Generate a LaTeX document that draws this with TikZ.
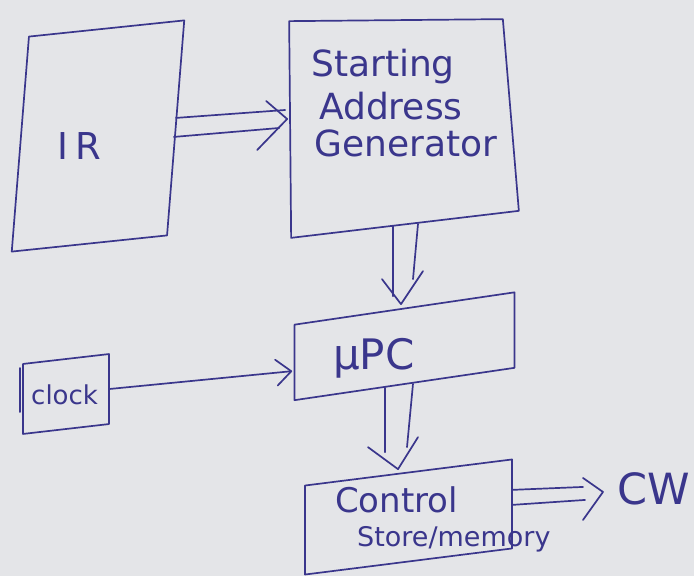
\documentclass[tikz,border=0pt]{standalone}
\usepackage{fontspec}
\setmainfont{DejaVu Sans}
\usetikzlibrary{calc,arrows.meta}
\definecolor{paper}{RGB}{228,229,232}
\definecolor{ink}{RGB}{58,54,140}
\tikzset{
  pen/.style={draw=ink, line width=1.7pt, line cap=round, line join=round},
  blockbox/.style={pen, rectangle, inner sep=0pt},
  handtext/.style={text=ink, inner sep=0pt, anchor=base west},
  barb/.style={-{Straight Barb[length=15pt,width=26pt,round]}},
}
\newcommand\fsz[1]{\fontsize{#1}{#1}\selectfont}

\begin{document}
\begin{tikzpicture}[x=1pt,y=1pt]
\fill[paper] (0,0) rectangle (694,576);
\useasboundingbox (0,0) rectangle (694,576);

% blocks (slanted as drawn by hand)
\node[blockbox, minimum width=154pt, minimum height=215pt, xslant=0.08, yslant=0.105] (ir) at (98,440) {};
\node[blockbox, draw=none, minimum width=220pt, minimum height=203pt] (sag) at (400.5,453.75) {};
\draw[pen] ($(sag.north west)+(-0.5,-1.25)$) -- ($(sag.north east)+(-8.5,0.75)$)
        -- ($(sag.south east)+(7.5,13.75)$) -- ($(sag.south west)+(1.5,-13.25)$) -- cycle;
\node[blockbox, minimum width=220pt, minimum height=75.5pt, yslant=0.147] (upc) at (404.5,229.75) {};
\node[blockbox, minimum width=86pt, minimum height=70pt, yslant=0.115] (clock) at (66,182) {};
\node[blockbox, minimum width=207pt, minimum height=89pt, yslant=0.126] (cs) at (408.5,59) {};
\node[handtext, font=\fsz{43}] (cw) at (617,71) {CW};

% extra stroke on the clock's left side
\draw[pen] ($(clock.west)+(-2.3,31)$) -- ($(clock.west)+(-2.3,-13)$);

% texts inside the blocks
\node[handtext, font=\fsz{37}] (irtext) at (57,416) {I\kern7ptR};
\node[handtext, font=\fsz{36}] (sag1) at (311,499) {Starting};
\node[handtext, font=\fsz{36}] (sag2) at (319,456) {Address};
\node[handtext, font=\fsz{36}] (sag3) at (314,419) {Generator};
\node[handtext, font=\fsz{42}] (upctext) at (333,206) {μPC};
\node[handtext, font=\fsz{26}] (clocktext) at (31,171) {clock};
\node[handtext, font=\fsz{34}] (cs1) at (335,63) {Control};
\node[handtext, font=\fsz{27}] (cs2) at (357,29) {Store/memory};

% IR => starting address generator
\draw[pen] ($(ir.east)+(-0.6,9.9)$) -- ($(sag.west)+(-4.5,12.25)$);
\draw[pen] ($(ir.east)+(-2.6,-9.1)$) -- ($(sag.west)+(-10.5,-5.75)$);
\draw[pen] ($(sag.west)+(-23.5,21.25)$) -- ($(sag.west)+(-2.5,3.25)$) -- ($(sag.west)+(-32.5,-27.75)$);

% starting address generator => uPC
\draw[pen] ($(sag.south)+(-7.5,-1.2)$) -- ($(upc.north)+(-11.5,11.5)$);
\draw[pen] ($(sag.south)+(17.5,0.75)$) -- ($(upc.north)+(8.5,28.5)$);
\draw[pen] ($(upc.north)+(-22.5,28.5)$) -- ($(upc.north)+(-3.5,3.5)$) -- ($(upc.north)+(18.5,36.5)$);

% uPC => control store
\draw[pen] ($(upc.south)+(-19.5,-3)$) -- ($(cs.north)+(-23.5,19.5)$);
\draw[pen] ($(upc.south)+(8.5,1)$) -- ($(cs.north)+(-1.5,24.5)$);
\draw[pen] ($(cs.north)+(-40.5,24.5)$) -- ($(cs.north)+(-10.5,2.5)$) -- ($(cs.north)+(9.5,34.5)$);

% clock -> uPC
\draw[pen, barb] (clock.east) -- ($(upc.west)+(-1.5,-8.6)$);

% control store => CW
\draw[pen] ($(cs.east)+(0,14)$) -- ($(cw.west)+(-34,2.4)$);
\draw[pen] ($(cs.east)+(0,-1)$) -- ($(cw.west)+(-32,-10.6)$);
\draw[pen] ($(cw.west)+(-34,11.4)$) -- ($(cw.west)+(-14,-2.6)$) -- ($(cw.west)+(-34,-30.6)$);
\end{tikzpicture}
\end{document}
